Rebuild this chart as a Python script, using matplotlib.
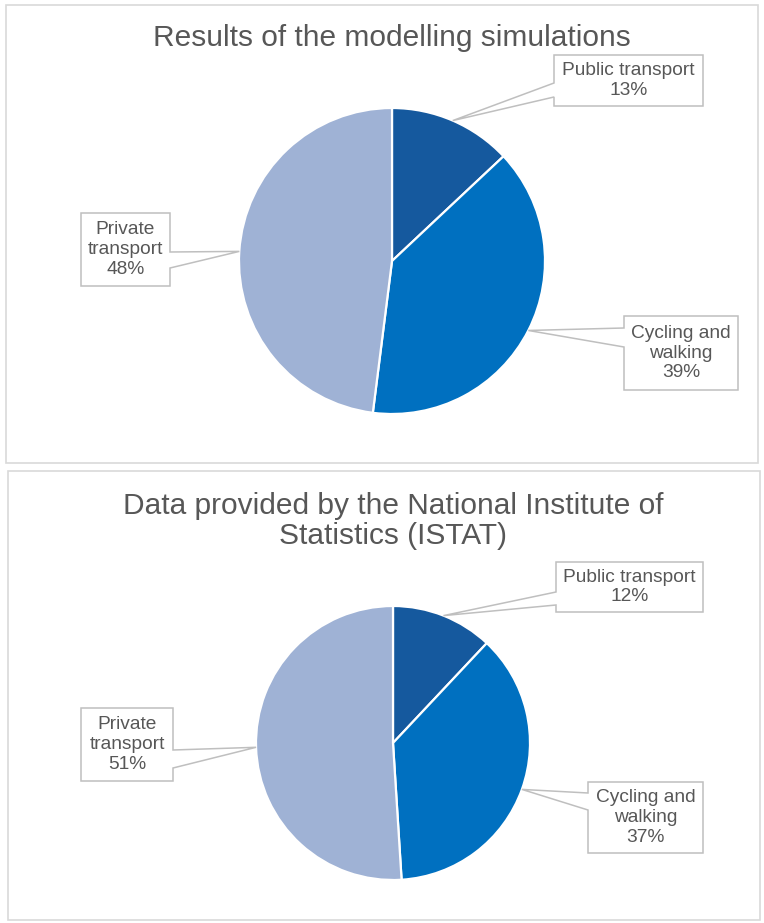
import numpy as np
import matplotlib.pyplot as plt
from matplotlib.patches import Polygon, Rectangle

# ----------------------------
# Data
# ----------------------------
categories = ["Public transport", "Cycling and walking", "Private transport"]
label_names = ["Public transport", "Cycling and\nwalking", "Private\ntransport"]
sim_values = [13, 39, 48]
istat_values = [12, 37, 51]
titles = ["Results of the modelling simulations",
          "Data provided by the National Institute of\nStatistics (ISTAT)"]
colors = ["#15599E", "#0070C0", "#9FB2D5"]

TEXT_COL = "#575757"
W, H = 764, 923


def yy(y):
    # image pixel row -> data y
    return H - y


def slice_tip(values, i, cx, cy, r):
    total = float(sum(values))
    cum = np.concatenate([[0], np.cumsum(values)])
    frac = (cum[i] + values[i] / 2.0) / total
    th = 2 * np.pi * frac
    return cx + r * np.sin(th), cy - r * np.cos(th)


def callout(ax, box, tip, side, base, text):
    x0, y0, x1, y1 = box
    b1, b2 = base
    if side == "left":
        verts = [(x0, y0), (x1, y0), (x1, y1), (x0, y1), (x0, b2), tip, (x0, b1)]
    else:
        verts = [(x0, y0), (x1, y0), (x1, b1), tip, (x1, b2), (x1, y1), (x0, y1)]
    verts = [(vx, yy(vy)) for vx, vy in verts]
    ax.add_patch(Polygon(verts, closed=True, facecolor="white",
                         edgecolor="#BFBFBF", lw=1.1, zorder=3))
    ax.text((x0 + x1) / 2, yy((y0 + y1) / 2), text, ha="center", va="center",
            fontsize=13.8, color=TEXT_COL, linespacing=1.22, zorder=4,
            family="Liberation Sans")


fig = plt.figure(figsize=(W / 100, H / 100), dpi=100)
ax = fig.add_axes([0, 0, 1, 1])

panels = [
    dict(values=sim_values, frame=(6, 5, 758, 463), center=(392, 261), r=153,
         title_y=38,
         boxes=[((554, 55, 703, 106), "left", (83, 97)),
                ((624, 316, 738, 390), "left", (328, 347)),
                ((81, 213, 170, 286), "right", (252, 268))]),
    dict(values=istat_values, frame=(8, 471, 760, 920), center=(393, 743), r=137,
         title_y=521,
         boxes=[((556, 562, 703, 612), "left", (592, 605)),
                ((588, 782, 703, 853), "left", (793, 810)),
                ((81, 708, 173, 781), "right", (750, 768))]),
]

for p, title in zip(panels, titles):
    fx0, fy0, fx1, fy1 = p["frame"]
    ax.add_patch(Rectangle((fx0, yy(fy1)), fx1 - fx0, fy1 - fy0, facecolor="white",
                           edgecolor="#D9D9D9", lw=1.2, zorder=0))
    cx, cy = p["center"]
    ax.pie(p["values"], colors=colors, startangle=90, counterclock=False,
           center=(cx, yy(cy)), radius=p["r"],
           wedgeprops=dict(edgecolor="white", linewidth=1.6))
    ax.text(cx, yy(p["title_y"]), title, ha="center", va="center", fontsize=21.5,
            color=TEXT_COL, linespacing=1.08, family="Liberation Sans")
    for i, (box, side, base) in enumerate(p["boxes"]):
        tip = slice_tip(p["values"], i, cx, cy, p["r"])
        txt = f"{label_names[i]}\n{p['values'][i]}%"
        callout(ax, box, tip, side, base, txt)

ax.set_xlim(0, W)
ax.set_ylim(0, H)
ax.set_aspect("equal")
ax.axis("off")

fig.savefig("out.png", dpi=100, facecolor="white")
